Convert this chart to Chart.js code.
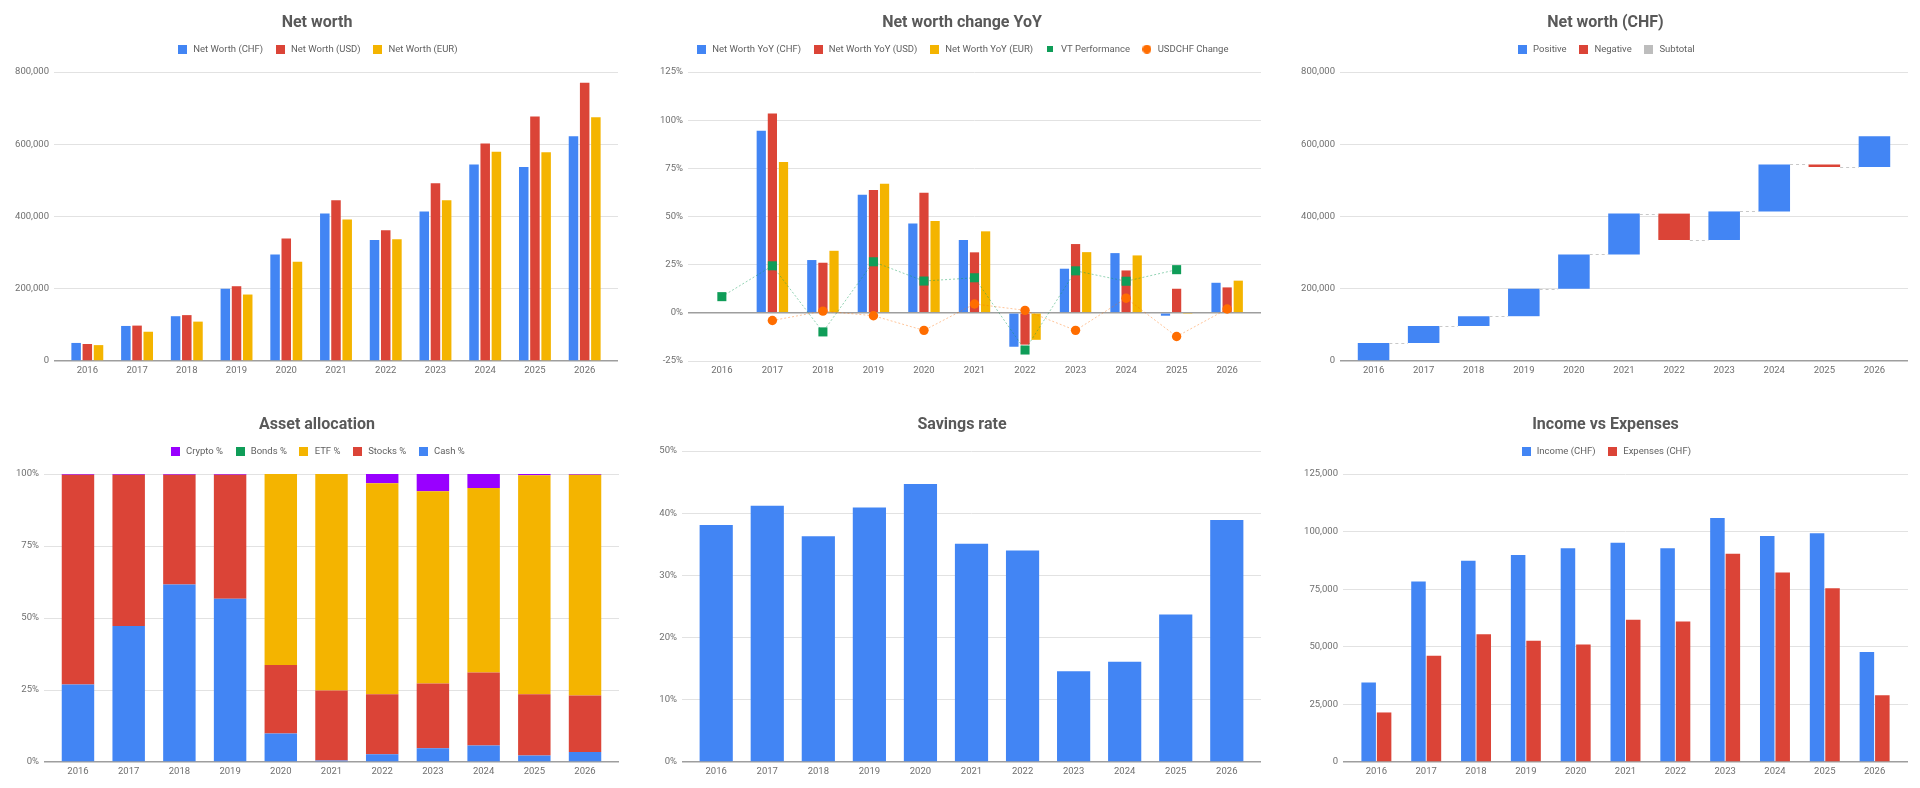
<!DOCTYPE html>
<html><head><meta charset="utf-8">
<script src="https://cdn.jsdelivr.net/npm/chart.js@4.4.1/dist/chart.umd.min.js"></script>
<style>
html,body{margin:0;padding:0;background:#fff;width:1920px;height:788px;overflow:hidden}
.cell{position:absolute;width:640px;height:386px}
canvas{display:block}
</style></head><body>
<div class="cell" style="left:0;top:0"><canvas id="nw" width="640" height="386"></canvas></div>
<div class="cell" style="left:640px;top:0"><canvas id="yoy" width="640" height="386"></canvas></div>
<div class="cell" style="left:1280px;top:0"><canvas id="wf" width="640" height="386"></canvas></div>
<div class="cell" style="left:0;top:402px"><canvas id="aa" width="640" height="386"></canvas></div>
<div class="cell" style="left:640px;top:402px"><canvas id="sr" width="640" height="386"></canvas></div>
<div class="cell" style="left:1280px;top:402px"><canvas id="ie" width="640" height="386"></canvas></div>
<script>
// ---------- DATA ----------
const years = ['2016','2017','2018','2019','2020','2021','2022','2023','2024','2025','2026'];

const nwCHF = [50000, 97000, 124000, 200000, 295000, 408000, 335000, 414000, 544000, 537000, 622000];
const nwUSD = [47000, 98000, 127000, 207000, 339000, 445000, 362000, 492000, 602000, 677000, 770000];
const nwEUR = [44000, 81000, 109000, 184000, 275000, 392000, 337000, 445000, 579000, 578000, 675000];

const yoyCHF = [null, 94.5, 27.4, 61.3, 46.4, 37.8, -17.6, 22.9, 31.0, -1.5, 15.6];
const yoyUSD = [null, 103.5, 26.0, 63.7, 62.3, 31.4, -16.5, 35.7, 22.0, 12.5, 13.2];
const yoyEUR = [null, 78.3, 32.2, 67.0, 47.6, 42.3, -14.0, 31.5, 29.8, -0.2, 16.7];
const vtPerf = [8.4, 24.4, -9.9, 26.5, 16.5, 18.2, -19.3, 21.8, 16.4, 22.4, null];
const usdchfChange = [null, -4.0, 0.9, -1.5, -9.1, 4.6, 1.3, -9.1, 7.6, -12.3, 2.0];

const cashPct   = [26.9, 47.2, 61.6, 56.7, 9.9, 0.5, 2.7, 4.8, 5.7, 2.3, 3.5];
const stocksPct = [72.8, 52.5, 38.1, 43.0, 23.8, 24.3, 20.8, 22.5, 25.4, 21.2, 19.6];
const etfPct    = [0, 0, 0, 0, 66.3, 75.2, 73.3, 66.7, 64.0, 76.1, 76.6];
const bondsPct  = [0, 0, 0, 0, 0, 0, 0, 0, 0, 0, 0];
const cryptoPct = [0.3, 0.3, 0.3, 0.3, 0, 0, 3.2, 6.0, 4.9, 0.4, 0.3];

const savingsRate = [38.1, 41.2, 36.3, 40.9, 44.7, 35.1, 34.0, 14.6, 16.1, 23.7, 38.9];

const incomeCHF   = [34500, 78300, 87300, 89800, 92800, 95200, 92800, 105900, 98100, 99300, 47700];
const expensesCHF = [21500, 46100, 55500, 52600, 51000, 61700, 61000, 90400, 82200, 75400, 29000];

// ---------- STYLE ----------
const FONT = 'Roboto';
const BLUE = '#4285F4', RED = '#DB4437', YELLOW = '#F4B400', GREEN = '#0F9D58', ORANGE = '#FF6D00', PURPLE = '#9900FF', GRAY = '#BDBDBD';
const TICK_COLOR = '#6f6f6f', GRID = '#e2e2e2', ZERO = '#9e9e9e';
const XPAD = 0.17;

Chart.defaults.font.family = FONT;

function marker(color, shape, size) {
  const c = document.createElement('canvas');
  c.width = size; c.height = size;
  const g = c.getContext('2d');
  g.fillStyle = color;
  if (shape === 'circle') { g.beginPath(); g.arc(size / 2, size / 2, size / 2, 0, Math.PI * 2); g.fill(); }
  else g.fillRect(0, 0, size, size);
  return c;
}

// empty layout box placed between the legend and the plot area
function spacer(h) {
  return {
    id: 'spacer',
    beforeInit(chart) {
      const box = {
        position: 'top', weight: -100, fullSize: true, options: {},
        left: 0, top: 0, right: 0, bottom: 0, width: 0, height: h,
        isHorizontal() { return true; },
        update(maxWidth) { this.width = maxWidth; this.height = h; return this.height; },
        draw() {}
      };
      Chart.layouts.addBox(chart, box);
    }
  };
}

const pctFmt = (v) => v + '%';
const numFmt = (v) => Number(v).toLocaleString('en-US');

function opts(cfg) {
  return {
    responsive: false,
    animation: false,
    layout: { padding: { left: cfg.padLeft, right: cfg.padRight, top: 0, bottom: cfg.padBottom } },
    plugins: {
      title: { display: true, text: cfg.title, color: '#595959', font: { family: FONT, size: 16, weight: 'bold' }, padding: { top: 13.4, bottom: 0.85 } },
      legend: {
        display: cfg.legend !== false, position: 'top', reverse: !!cfg.reverseLegend,
        labels: {
          usePointStyle: true, pointStyleWidth: 12, padding: 11, color: '#5f5f5f',
          font: { family: FONT, size: 9.5 },
          sort: (a, b) => a.datasetIndex - b.datasetIndex,
          generateLabels(chart) {
            const items = Chart.defaults.plugins.legend.labels.generateLabels(chart);
            items.forEach(it => { if (cfg.markers && cfg.markers[it.datasetIndex]) it.pointStyle = cfg.markers[it.datasetIndex]; });
            return items;
          }
        }
      },
      tooltip: { enabled: false }
    },
    scales: {
      x: {
        type: 'linear',
        min: Number(years[0]) - 0.5 - XPAD,
        max: Number(years[years.length - 1]) + 0.5 + XPAD,
        offset: false, stacked: !!cfg.stacked,
        grid: { display: false, drawTicks: false }, border: { display: false },
        ticks: {
          stepSize: 1, includeBounds: false, autoSkip: false, maxRotation: 0, padding: 3.5,
          color: TICK_COLOR, font: { family: FONT, size: 9.5 },
          callback: (v) => { const i = years.indexOf(String(v)); return i < 0 ? '' : years[i]; }
        },
        afterFit: (s) => { s.height = 20; s.paddingLeft = 0; s.paddingRight = cfg.xPadRight; }
      },
      y: {
        min: cfg.yMin, max: cfg.yMax, stacked: !!cfg.stacked,
        grid: {
          drawTicks: false,
          color: (c) => (c.tick && c.tick.value === 0) ? ZERO : GRID,
          lineWidth: (c) => (c.tick && c.tick.value === 0) ? 1.5 : 1
        },
        border: { display: false },
        ticks: { stepSize: cfg.yStep, padding: 5, color: TICK_COLOR, font: { family: FONT, size: 9.5 }, callback: cfg.yFmt },
        afterFit: (s) => { s.width = cfg.yWidth; }
      }
    }
  };
}

const sq = (c) => marker(c, 'rect', 9);
const LEG_SPACER = 8.05;   // 72 - (title 33.45 + legend 30.5)
const NOLEG_SPACER = 15.55; // 49 - title 33.45

// ---------- 1. Net worth ----------
new Chart(document.getElementById('nw'), {
  type: 'bar',
  data: {
    labels: years,
    datasets: [
      { label: 'Net Worth (CHF)', data: nwCHF, backgroundColor: BLUE, categoryPercentage: 0.675, barPercentage: 0.85 },
      { label: 'Net Worth (USD)', data: nwUSD, backgroundColor: RED, categoryPercentage: 0.675, barPercentage: 0.85 },
      { label: 'Net Worth (EUR)', data: nwEUR, backgroundColor: YELLOW, categoryPercentage: 0.675, barPercentage: 0.85 }
    ]
  },
  options: opts({ title: 'Net worth', padLeft: 0, padRight: 6, padBottom: 5, yWidth: 54, xPadRight: 22,
    yMin: 0, yMax: 800000, yStep: 200000, yFmt: numFmt, markers: [sq(BLUE), sq(RED), sq(YELLOW)] }),
  plugins: [spacer(LEG_SPACER)]
});

// ---------- 2. Net worth change YoY ----------
new Chart(document.getElementById('yoy'), {
  type: 'bar',
  data: {
    labels: years,
    datasets: [
      { label: 'Net Worth YoY (CHF)', data: yoyCHF, backgroundColor: BLUE, categoryPercentage: 0.66, barPercentage: 0.83, order: 1 },
      { label: 'Net Worth YoY (USD)', data: yoyUSD, backgroundColor: RED, categoryPercentage: 0.66, barPercentage: 0.83, order: 1 },
      { label: 'Net Worth YoY (EUR)', data: yoyEUR, backgroundColor: YELLOW, categoryPercentage: 0.66, barPercentage: 0.83, order: 1 },
      { type: 'line', label: 'VT Performance', data: vtPerf, order: 0, borderColor: 'rgba(15,157,88,0.45)', borderWidth: 1, borderDash: [2, 2],
        pointStyle: 'rect', pointRadius: 6.4, pointBackgroundColor: GREEN, pointBorderWidth: 0, backgroundColor: GREEN, fill: false, tension: 0 },
      { type: 'line', label: 'USDCHF Change', data: usdchfChange, order: 0, borderColor: 'rgba(255,109,0,0.4)', borderWidth: 1, borderDash: [2, 2],
        pointStyle: 'circle', pointRadius: 4.7, pointBackgroundColor: ORANGE, pointBorderWidth: 0, backgroundColor: ORANGE, fill: false, tension: 0 }
    ]
  },
  options: opts({ title: 'Net worth change YoY', padLeft: 4, padRight: 0, padBottom: 5, yWidth: 44, xPadRight: 19,
    yMin: -25, yMax: 125, yStep: 25, yFmt: pctFmt,
    markers: [sq(BLUE), sq(RED), sq(YELLOW), marker(GREEN, 'rect', 6), marker(ORANGE, 'circle', 9)] }),
  plugins: [spacer(LEG_SPACER)]
});

// ---------- 3. Net worth (CHF) waterfall ----------
const wfPositive = nwCHF.map((v, i) => { const p = i ? nwCHF[i - 1] : 0; return v >= p ? [p, v] : null; });
const wfNegative = nwCHF.map((v, i) => { const p = i ? nwCHF[i - 1] : 0; return v < p ? [p, v] : null; });
const wfSubtotal = nwCHF.map(() => null);

const wfConnectors = {
  id: 'wfConnectors',
  afterDatasetsDraw(chart) {
    const xs = chart.scales.x, ys = chart.scales.y, ctx = chart.ctx;
    const halfW = (i) => {
      for (let d = 0; d < chart.data.datasets.length; d++) {
        if (chart.data.datasets[d].data[i] != null) return chart.getDatasetMeta(d).data[i].width / 2;
      }
      return 0;
    };
    ctx.save();
    ctx.setLineDash([3, 3]);
    ctx.strokeStyle = '#c8c8c8';
    ctx.lineWidth = 1;
    for (let i = 0; i < nwCHF.length - 1; i++) {
      const y = Math.round(ys.getPixelForValue(nwCHF[i])) + 0.5;
      const x1 = xs.getPixelForValue(Number(years[i])) + halfW(i);
      const x2 = xs.getPixelForValue(Number(years[i + 1])) - halfW(i + 1);
      ctx.beginPath(); ctx.moveTo(x1, y); ctx.lineTo(x2, y); ctx.stroke();
    }
    ctx.restore();
  }
};

new Chart(document.getElementById('wf'), {
  type: 'bar',
  data: {
    labels: years,
    datasets: [
      { label: 'Positive', data: wfPositive, backgroundColor: BLUE, grouped: false, categoryPercentage: 1, barPercentage: 0.63 },
      { label: 'Negative', data: wfNegative, backgroundColor: RED, grouped: false, categoryPercentage: 1, barPercentage: 0.63 },
      { label: 'Subtotal', data: wfSubtotal, backgroundColor: GRAY, grouped: false, categoryPercentage: 1, barPercentage: 0.63 }
    ]
  },
  options: opts({ title: 'Net worth (CHF)', padLeft: 11, padRight: 0, padBottom: 5, yWidth: 49, xPadRight: 12,
    yMin: 0, yMax: 800000, yStep: 200000, yFmt: numFmt, markers: [sq(BLUE), sq(RED), sq(GRAY)] }),
  plugins: [wfConnectors, spacer(LEG_SPACER)]
});

// ---------- 4. Asset allocation ----------
new Chart(document.getElementById('aa'), {
  type: 'bar',
  data: {
    labels: years,
    datasets: [
      { label: 'Cash %', data: cashPct, backgroundColor: BLUE, categoryPercentage: 0.8, barPercentage: 0.8 },
      { label: 'Stocks %', data: stocksPct, backgroundColor: RED, categoryPercentage: 0.8, barPercentage: 0.8 },
      { label: 'ETF %', data: etfPct, backgroundColor: YELLOW, categoryPercentage: 0.8, barPercentage: 0.8 },
      { label: 'Bonds %', data: bondsPct, backgroundColor: GREEN, categoryPercentage: 0.8, barPercentage: 0.8 },
      { label: 'Crypto %', data: cryptoPct, backgroundColor: PURPLE, categoryPercentage: 0.8, barPercentage: 0.8 }
    ]
  },
  options: opts({ title: 'Asset allocation', padLeft: 0, padRight: 6, padBottom: 6, yWidth: 44, xPadRight: 21,
    yMin: 0, yMax: 100, yStep: 25, yFmt: pctFmt, stacked: true, reverseLegend: true,
    markers: [sq(BLUE), sq(RED), sq(YELLOW), sq(GREEN), sq(PURPLE)] }),
  plugins: [spacer(LEG_SPACER)]
});

// ---------- 5. Savings rate ----------
new Chart(document.getElementById('sr'), {
  type: 'bar',
  data: {
    labels: years,
    datasets: [
      { label: 'Savings rate', data: savingsRate, backgroundColor: BLUE, categoryPercentage: 1, barPercentage: 0.65 }
    ]
  },
  options: opts({ title: 'Savings rate', legend: false, padLeft: 4, padRight: 0, padBottom: 6, yWidth: 38, xPadRight: 19,
    yMin: 0, yMax: 50, yStep: 10, yFmt: pctFmt }),
  plugins: [spacer(NOLEG_SPACER)]
});

// ---------- 6. Income vs Expenses ----------
new Chart(document.getElementById('ie'), {
  type: 'bar',
  data: {
    labels: years,
    datasets: [
      { label: 'Income (CHF)', data: incomeCHF, backgroundColor: BLUE, categoryPercentage: 0.62, barPercentage: 0.94 },
      { label: 'Expenses (CHF)', data: expensesCHF, backgroundColor: RED, categoryPercentage: 0.62, barPercentage: 0.94 }
    ]
  },
  options: opts({ title: 'Income vs Expenses', padLeft: 11, padRight: 0, padBottom: 6, yWidth: 52, xPadRight: 12,
    yMin: 0, yMax: 125000, yStep: 25000, yFmt: numFmt, markers: [sq(BLUE), sq(RED)] }),
  plugins: [spacer(LEG_SPACER)]
});
</script>
</body></html>
